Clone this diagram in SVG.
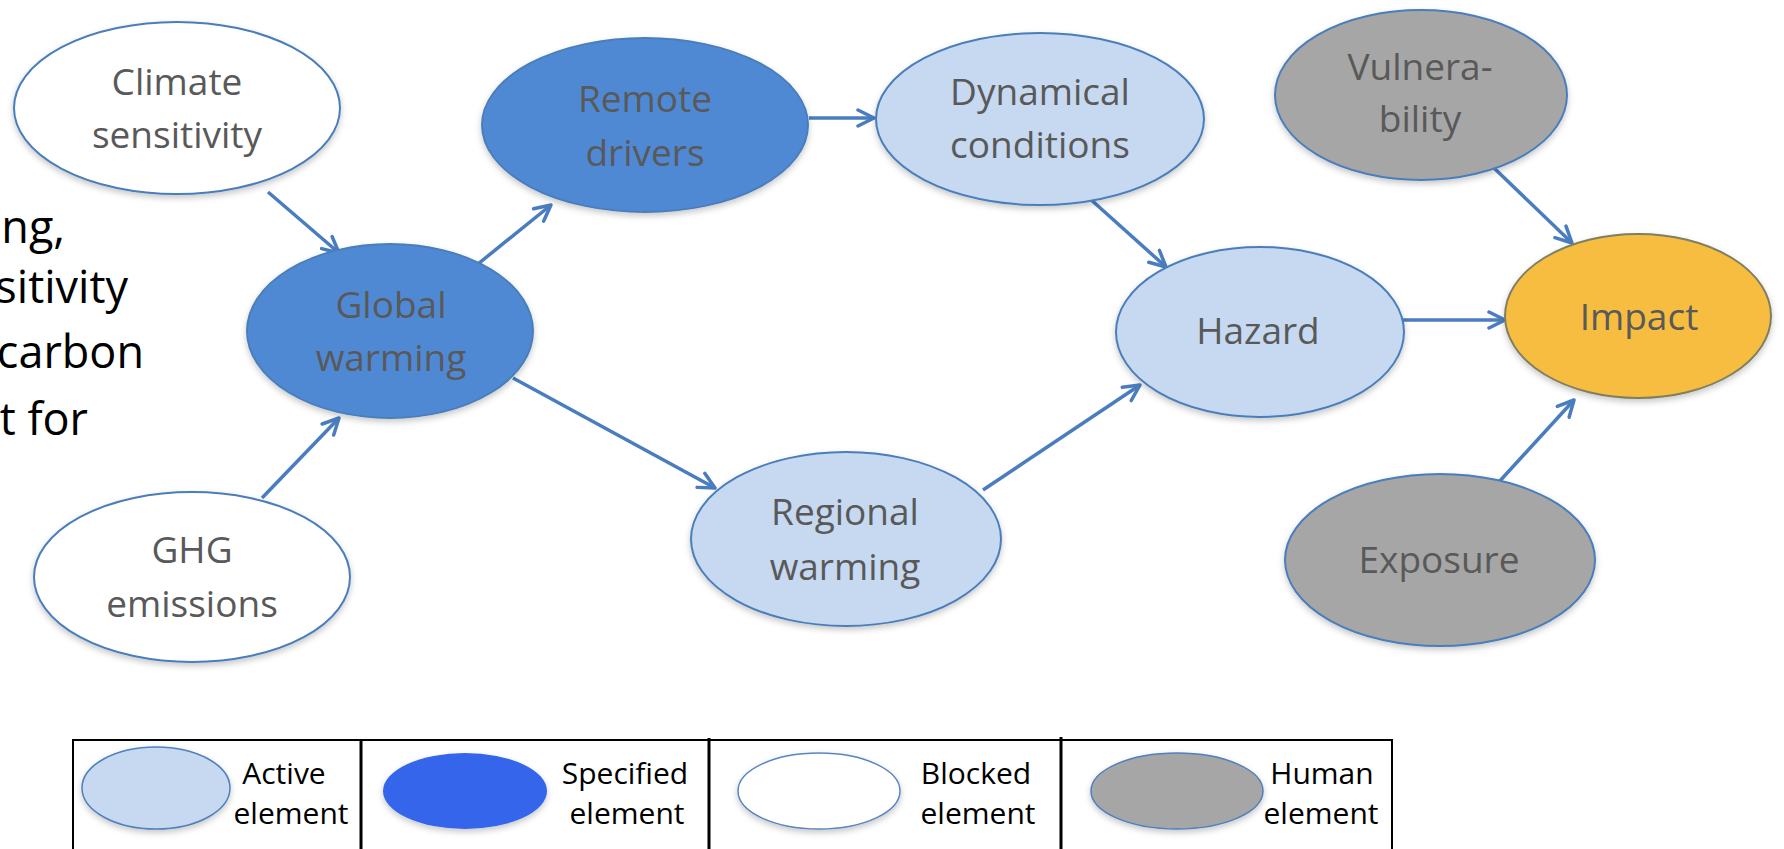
<svg xmlns="http://www.w3.org/2000/svg" width="1784" height="849" viewBox="0 0 1784 849">
<style>
.bg{fill:#ffffff}
.node ellipse{stroke:#4a7ebb;stroke-width:2}
.active{fill:#c6d9f1}
.spec{fill:#5089d4}
.blocked{fill:#ffffff}
.human{fill:#a6a6a6}
.impact{fill:#f6bd3f;stroke:#7f7f60 !important}
.nt{font-family:"Open Sans","Liberation Sans",sans-serif;font-size:37px;fill:#595959;text-anchor:middle}
.lt{font-family:"Open Sans","Liberation Sans",sans-serif;font-size:45px;fill:#000000;text-anchor:end}
.lg{font-family:"Open Sans","Liberation Sans",sans-serif;font-size:30px;fill:#000000;text-anchor:middle}
.conn line{stroke:#4a7dbf;stroke-width:3.5;fill:none;marker-end:url(#ah)}
.frame{fill:none;stroke:#000;stroke-width:2}
.div{stroke:#000;stroke-width:3}
</style>
<defs>
<filter id="sh" x="-10%" y="-10%" width="120%" height="130%">
<feDropShadow dx="0" dy="3" stdDeviation="3" flood-color="#000" flood-opacity="0.22"/>
</filter>
<marker id="ah" viewBox="-2 -10 22 20" refX="16" refY="0" markerWidth="22" markerHeight="20" markerUnits="userSpaceOnUse" orient="auto">
<path d="M0,-8 L16,0 L0,8" fill="none" stroke="#4a7dbf" stroke-width="3.5" stroke-linejoin="round" stroke-linecap="round"/>
</marker>
</defs>
<rect class="bg" x="0" y="0" width="1784" height="849"/>

<g id="side-text">
<text class="lt" x="65" y="243">ng,</text>
<text class="lt" x="128" y="303">sitivity</text>
<text class="lt" x="144" y="368">carbon</text>
<text class="lt" x="88" y="435">t for</text>
</g>

<g id="connectors" class="conn">
<line x1="268" y1="192" x2="339" y2="253"/>
<line x1="262" y1="498" x2="339" y2="418"/>
<line x1="473" y1="268" x2="551" y2="205"/>
<line x1="513" y1="378" x2="715" y2="488"/>
<line x1="809" y1="118" x2="874" y2="118"/>
<line x1="1088" y1="197" x2="1166" y2="267"/>
<line x1="983" y1="490" x2="1140" y2="385"/>
<line x1="1388" y1="320" x2="1505" y2="320"/>
<line x1="1494" y1="168" x2="1572" y2="243"/>
<line x1="1498" y1="483" x2="1574" y2="400"/>
</g>

<g id="climate-sensitivity" class="node">
<ellipse class="blocked" cx="177" cy="108" rx="163" ry="86" filter="url(#sh)"/>
<text class="nt" x="177" y="95">Climate</text>
<text class="nt" x="177" y="148">sensitivity</text>
</g>

<g id="ghg-emissions" class="node">
<ellipse class="blocked" cx="192" cy="577" rx="158" ry="85" filter="url(#sh)"/>
<text class="nt" x="192" y="563">GHG</text>
<text class="nt" x="192" y="617">emissions</text>
</g>

<g id="global-warming" class="node">
<ellipse class="spec" cx="390" cy="331" rx="143" ry="87" filter="url(#sh)"/>
<text class="nt" x="391" y="318">Global</text>
<text class="nt" x="391" y="371">warming</text>
</g>

<g id="remote-drivers" class="node">
<ellipse class="spec" cx="645" cy="125" rx="163" ry="87" filter="url(#sh)"/>
<text class="nt" x="645" y="112">Remote</text>
<text class="nt" x="645" y="166">drivers</text>
</g>

<g id="dynamical-conditions" class="node">
<ellipse class="active" cx="1040" cy="119" rx="164" ry="86" filter="url(#sh)"/>
<text class="nt" x="1040" y="105">Dynamical</text>
<text class="nt" x="1040" y="158">conditions</text>
</g>

<g id="regional-warming" class="node">
<ellipse class="active" cx="846" cy="539" rx="155" ry="87" filter="url(#sh)"/>
<text class="nt" x="845" y="525">Regional</text>
<text class="nt" x="845" y="580">warming</text>
</g>

<g id="hazard" class="node">
<ellipse class="active" cx="1260" cy="332" rx="144" ry="85" filter="url(#sh)"/>
<text class="nt" x="1258" y="344">Hazard</text>
</g>

<g id="vulnerability" class="node">
<ellipse class="human" cx="1421" cy="95" rx="146" ry="85" filter="url(#sh)"/>
<text class="nt" x="1420" y="80">Vulnera-</text>
<text class="nt" x="1420" y="132">bility</text>
</g>

<g id="impact" class="node">
<ellipse class="impact" cx="1638" cy="316" rx="133" ry="82" filter="url(#sh)"/>
<text class="nt" x="1639" y="330">Impact</text>
</g>

<g id="exposure" class="node">
<ellipse class="human" cx="1440" cy="560" rx="155" ry="86" filter="url(#sh)"/>
<text class="nt" x="1439" y="573">Exposure</text>
</g>

<g id="legend">
<rect class="frame" x="73" y="740" width="1319" height="130"/>
<line class="div" x1="361" y1="740" x2="361" y2="849"/>
<line class="div" x1="709" y1="738" x2="709" y2="849"/>
<line class="div" x1="1061" y1="737" x2="1061" y2="849"/>
<ellipse cx="156" cy="788" rx="74" ry="41" fill="#c6d9f1" stroke="#4f7fbd" stroke-width="1.5" filter="url(#sh)"/>
<text class="lg" x="284" y="784">Active</text>
<text class="lg" x="291" y="824">element</text>
<ellipse cx="465" cy="791" rx="82" ry="38" fill="#3565ea" filter="url(#sh)"/>
<text class="lg" x="625" y="784">Specified</text>
<text class="lg" x="627" y="824">element</text>
<ellipse cx="819" cy="791" rx="81" ry="38" fill="#ffffff" stroke="#5a86c0" stroke-width="1.5" filter="url(#sh)"/>
<text class="lg" x="976" y="784">Blocked</text>
<text class="lg" x="978" y="824">element</text>
<ellipse cx="1177" cy="791" rx="86" ry="38" fill="#a6a6a6" stroke="#4f7fbd" stroke-width="1.5" filter="url(#sh)"/>
<text class="lg" x="1322" y="784">Human</text>
<text class="lg" x="1321" y="824">element</text>
</g>
</svg>
